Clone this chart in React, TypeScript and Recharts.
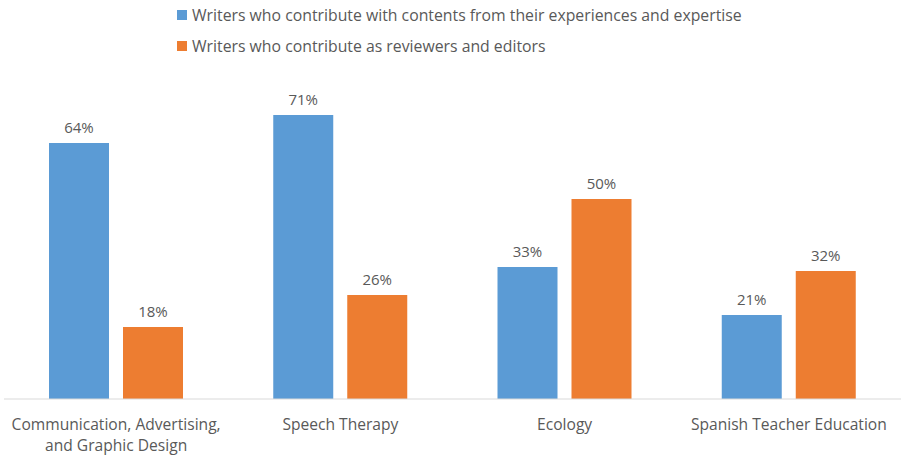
import React from "react";
import { BarChart, Bar, XAxis, YAxis, LabelList } from "recharts";

const categories = [
  "Communication, Advertising,\nand Graphic Design",
  "Speech Therapy",
  "Ecology",
  "Spanish Teacher Education",
];
const contentWriters = [64, 71, 33, 21];
const reviewerWriters = [18, 26, 50, 32];
const seriesNames = [
  "Writers who contribute with contents from their experiences and expertise",
  "Writers who contribute as reviewers and editors",
];
const colors = ["#5B9BD5", "#ED7D31"];

const data = categories.map((c, i) => ({
  name: c,
  a: contentWriters[i],
  b: reviewerWriters[i],
}));

const FONT = "'Open Sans', sans-serif";
const TEXT = "#595959";

const Tick = (props: any) => {
  const { x, y, payload } = props;
  const lines = String(payload.value).split("\n");
  return (
    <text x={x} y={y} textAnchor="middle" fill={TEXT} fontFamily={FONT} fontSize={15.6}>
      {lines.map((l: string, i: number) => (
        <tspan key={i} x={x} dy={i === 0 ? 23 : 21}>
          {l}
        </tspan>
      ))}
    </text>
  );
};

const fmt = (v: any) => `${v}%`;

export default function App() {
  return (
    <div style={{ position: "absolute", left: 0, top: 0, width: 901, height: 457, background: "#fff" }}>
      <div style={{ position: "absolute", left: 177, top: 4, fontFamily: FONT, fontSize: 15.8, color: TEXT, zIndex: 2 }}>
        {seriesNames.map((n, i) => (
          <div key={i} style={{ display: "flex", alignItems: "center", height: 22, marginBottom: i === 0 ? 9 : 0 }}>
            <span style={{ display: "inline-block", width: 10, height: 10, background: colors[i], marginRight: 5 }} />
            <span style={{ whiteSpace: "nowrap" }}>{n}</span>
          </div>
        ))}
      </div>
      <BarChart
        width={901}
        height={457}
        data={data}
        margin={{ top: 79, right: 0, bottom: 0, left: 4 }}
        barGap={14}
        barSize={60}
      >
        <XAxis
          dataKey="name"
          axisLine={{ stroke: "#D9D9D9", strokeWidth: 1 }}
          tickLine={false}
          tick={<Tick />}
          interval={0}
          height={58}
        />
        <YAxis hide domain={[0, 80]} width={0} />
        <Bar dataKey="a" fill={colors[0]} isAnimationActive={false}>
          <LabelList dataKey="a" position="top" offset={10} formatter={fmt} fill={TEXT} fontFamily={FONT} fontSize={15} />
        </Bar>
        <Bar dataKey="b" fill={colors[1]} isAnimationActive={false}>
          <LabelList dataKey="b" position="top" offset={10} formatter={fmt} fill={TEXT} fontFamily={FONT} fontSize={15} />
        </Bar>
      </BarChart>
    </div>
  );
}
